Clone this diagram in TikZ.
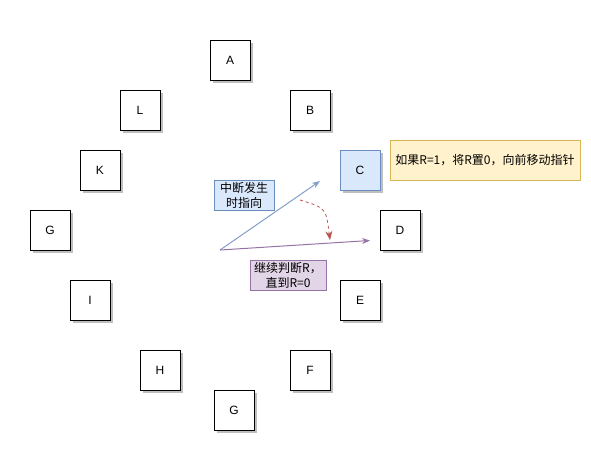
\documentclass[tikz,border=0pt]{standalone}
\usepackage{fontspec}
\setmainfont{Liberation Sans}
\newfontfamily\cjk{Noto Sans CJK SC}
\usetikzlibrary{arrows.meta,shadows}
\definecolor{bluefill}{HTML}{DAE8FC}
\definecolor{blueline}{HTML}{6C8EBF}
\definecolor{yelfill}{HTML}{FFF2CC}
\definecolor{yelline}{HTML}{D6B656}
\definecolor{purfill}{HTML}{E1D5E7}
\definecolor{purline}{HTML}{9673A6}
\definecolor{redline}{HTML}{B85450}
\begin{document}
\begin{tikzpicture}[x=1pt,y=-1pt,>={Stealth[length=8pt,width=6pt]},every node/.style={font=\fontsize{12}{15}\selectfont},
  box/.style={draw,line width=0.8pt,minimum size=40pt,inner sep=0pt,fill=white,drop shadow={shadow xshift=3pt,shadow yshift=-3pt,fill=black!25,opacity=1}},
  tag/.style={draw,line width=0.6pt,align=center,inner sep=1pt,font=\cjk\fontsize{12}{15}\selectfont}]
\useasboundingbox (0,0) rectangle (591,451);
% clock ring
\node[box] (a) at (230,60) {A};
\node[box] (b) at (310,110) {B};
\node[box,draw=blueline,fill=bluefill] (c) at (360,170) {C};
\node[box] (d) at (400,230) {D};
\node[box] (e) at (360,300) {E};
\node[box] (f) at (310,370) {F};
\node[box] (g2) at (234,410) {G};
\node[box] (h) at (160,370) {H};
\node[box] (i) at (90,300) {I};
\node[box] (g1) at (50,230) {G};
\node[box] (k) at (100,170) {K};
\node[box] (l) at (140,110) {L};
% notes
\node[tag,draw=yelline,fill=yelfill,minimum width=190pt,minimum height=40pt] (note) at (485,160) {如果R=1，将R置0，向前移动指针};
\node[tag,draw=blueline,fill=bluefill,minimum width=60pt,minimum height=30pt] (hit) at (244,195) {中断发生\\时指向};
\node[tag,draw=purline,fill=purfill,minimum width=76pt,minimum height=30pt] (cont) at (288,275) {继续判断R，\\直到R=0};
% pointer hands
\coordinate (hand) at (220,250);
\coordinate (tipc) at (320,181);
\coordinate (tipd) at (370,240.5);
\draw[->,blueline!85,line width=1pt] (hand) -- (tipc);
\draw[->,purline,line width=1pt] (hand) -- (tipd);
\coordinate (from) at (300,200);
\coordinate (to) at (330,240);
\draw[-{Stealth[length=9pt,width=7pt]},redline,dashed,line width=0.8pt] (from) .. controls (326,208) .. (to);
\end{tikzpicture}
\end{document}
